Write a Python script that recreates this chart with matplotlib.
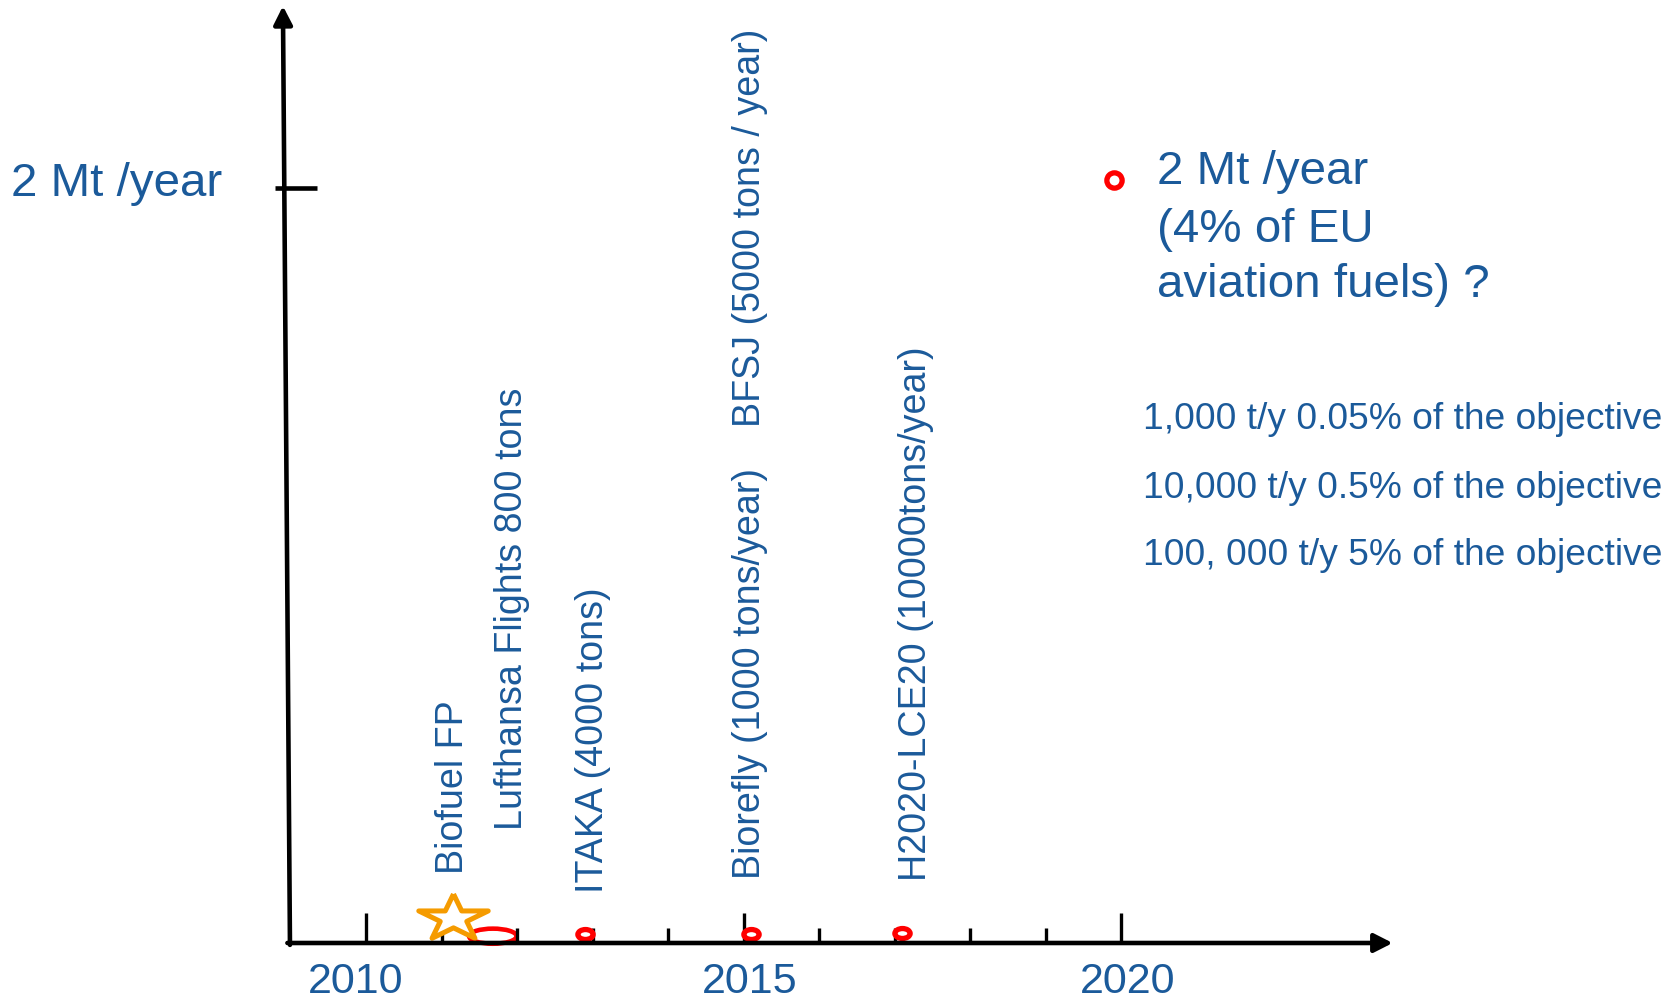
import matplotlib
matplotlib.use("Agg")
import matplotlib.pyplot as plt
from matplotlib.patches import Ellipse
from matplotlib.markers import MarkerStyle
from matplotlib.transforms import Affine2D
import numpy as np

plt.rcParams['font.family'] = ['Liberation Sans', 'DejaVu Sans']

# ---------------- data ----------------
tick_years = list(range(2010, 2021))
year_labels = ['2010', '2015', '2020']
year_label_x = [2009.86, 2015.08, 2020.08]

target_value = 2.0            # Mt/year objective
target_label = '2 Mt /year'

project_labels = ['Biofuel FP', 'Lufthansa Flights 800 tons', 'ITAKA (4000 tons)',
                  'Biorefly (1000 tons/year)', 'BFSJ (5000 tons / year)',
                  'H2020-LCE20 (10000tons/year)']
project_label_x = [2011.29, 2012.07, 2013.14, 2015.21, 2015.21, 2017.41]
project_label_y = [0.183, 0.299, 0.132, 0.170, 1.366, 0.164]

star_year, star_value = 2011.15, 0.066
ellipse_year, ellipse_value = 2011.68, 0.018
circle_years = [2012.90, 2015.10, 2017.10]
circle_values = [0.024, 0.024, 0.026]
goal_year, goal_value = 2019.90, 2.02

objective_lines = ['2 Mt /year', '(4% of EU', 'aviation fuels) ?']
objective_y = [2.010, 1.857, 1.711]
share_lines = ['1,000 t/y 0.05% of the objective',
               '10,000 t/y 0.5% of the objective',
               '100, 000 t/y 5% of the objective']
share_y = [1.360, 1.179, 1.001]

# ---------------- style ----------------
BLUE = '#1B5A9A'
RED = '#FF0000'
ORANGE = '#F59B00'

fig = plt.figure(figsize=(16.72, 9.99), dpi=100)
ax = fig.add_axes([0, 0, 1, 1])
ax.set_xlim(2005.156, 2027.287)
ax.set_ylim(-0.1483, 2.497)
ax.axis('off')

# axes arrows
arrow = dict(arrowstyle='-|>,head_length=0.55,head_width=0.28', lw=3.3,
             color='black', mutation_scale=20, shrinkA=0, shrinkB=0)
ax.annotate('', xy=(2023.59, 0), xytext=(2008.96, 0), arrowprops=arrow)
ax.annotate('', xy=(2008.901, 2.481), xytext=(2008.994, -0.005), arrowprops=arrow)

# year ticks
for yr in tick_years:
    h = 0.0794 if yr % 5 == 0 else 0.0397
    ax.plot([yr, yr], [0, h], color='black', lw=2.4, solid_capstyle='butt')

# 2 Mt tick
ax.plot([2008.796, 2009.352], [target_value, target_value], color='black', lw=3.3,
        solid_capstyle='butt')
ax.text(2005.30, 1.978, target_label, fontsize=34.2, color=BLUE,
        ha='left', va='baseline')

for lab, x in zip(year_labels, year_label_x):
    ax.text(x, -0.132, lab, fontsize=31, color=BLUE, ha='center', va='baseline')

# project labels (rotated)
for lab, x, y in zip(project_labels, project_label_x, project_label_y):
    ax.text(x, y, lab, fontsize=27.1, color=BLUE, rotation=90,
            rotation_mode='anchor', ha='left', va='baseline')

# star marker (flattened)
ang = np.pi / 2 + np.arange(10) * np.pi / 5
rad = np.where(np.arange(10) % 2 == 0, 1.0, 0.382)
star_verts = np.column_stack([rad * np.cos(ang), 0.67 * rad * np.sin(ang)])
star_verts = np.vstack([star_verts, star_verts[:1]])
ax.plot([star_year], [star_value], marker=MarkerStyle(star_verts), markersize=50,
        markerfacecolor='white', markeredgecolor=ORANGE, markeredgewidth=3.6,
        linestyle='none')

# ellipse (Lufthansa)
ax.add_patch(Ellipse((ellipse_year, ellipse_value), width=0.63, height=0.040,
                     facecolor='none', edgecolor=RED, lw=3.3))

# small circles
flat_o = MarkerStyle('o', transform=Affine2D().scale(1.0, 0.65))
ax.plot(circle_years, circle_values, marker=flat_o, markersize=11,
        markerfacecolor='white', markeredgecolor=RED, markeredgewidth=3.8,
        linestyle='none')

# goal circle
ax.plot([goal_year], [goal_value], marker='o', markersize=11,
        markerfacecolor='white', markeredgecolor=RED, markeredgewidth=3.8,
        linestyle='none')

for line, y in zip(objective_lines, objective_y):
    ax.text(2020.466, y, line, fontsize=34.2, color=BLUE, ha='left', va='baseline')

for line, y in zip(share_lines, share_y):
    ax.text(2020.285, y, line, fontsize=26.7, color=BLUE, ha='left', va='baseline')

fig.savefig('out.png', dpi=100)
